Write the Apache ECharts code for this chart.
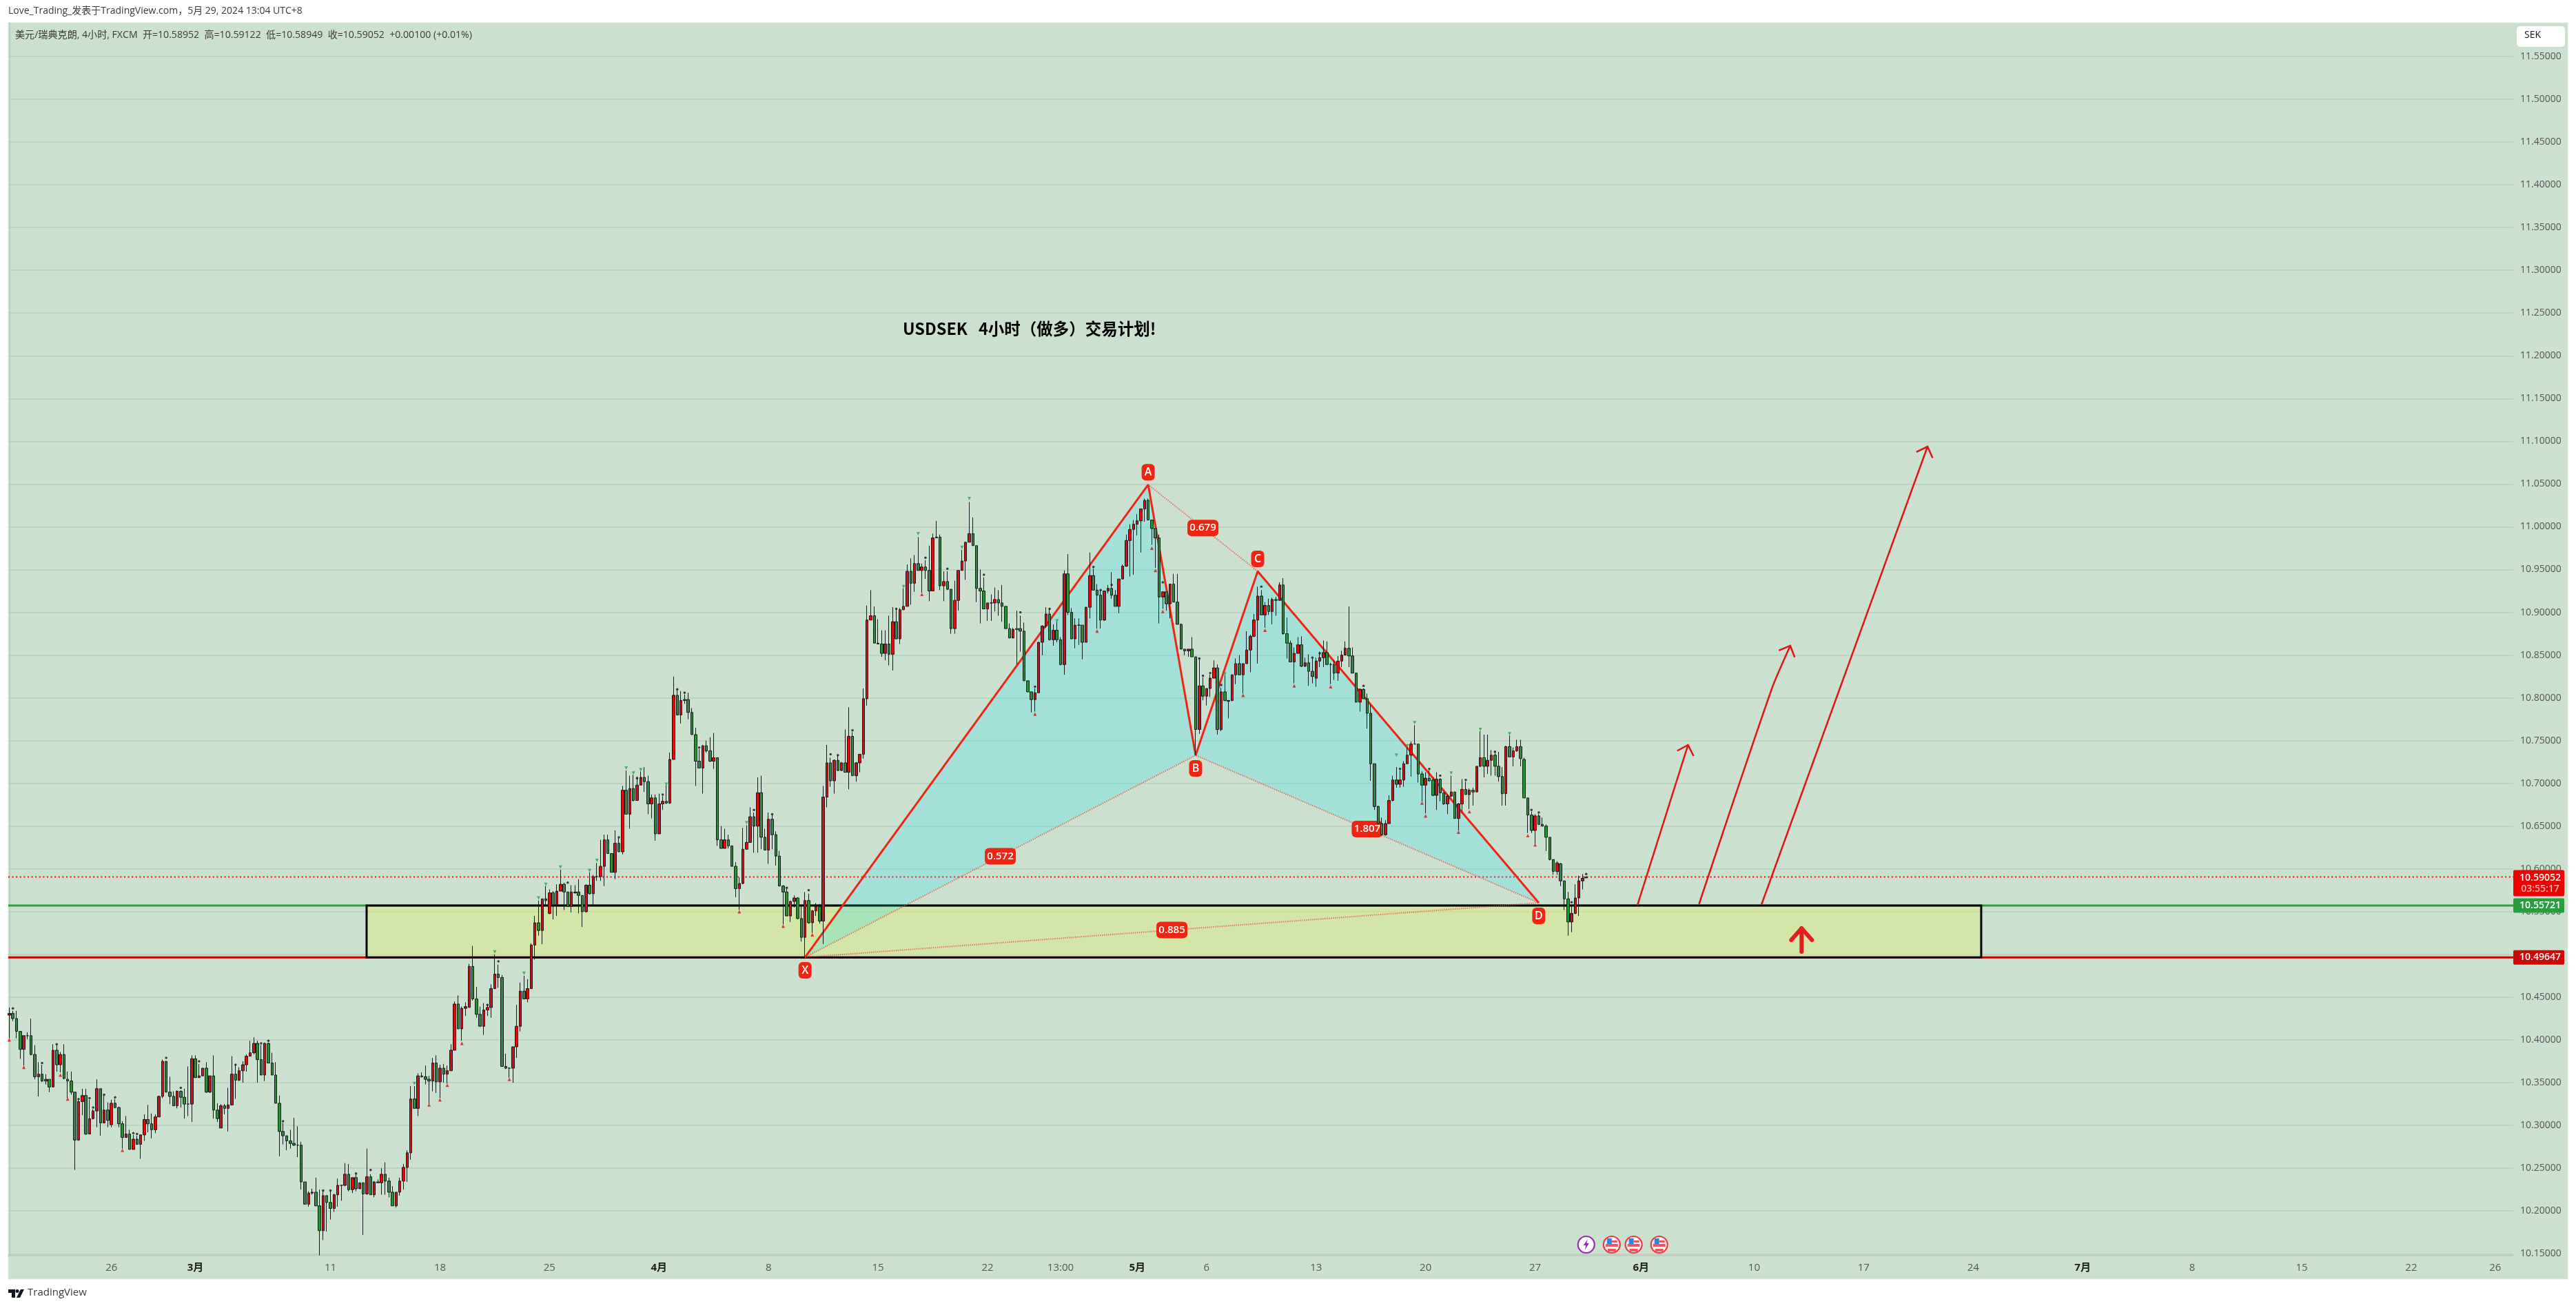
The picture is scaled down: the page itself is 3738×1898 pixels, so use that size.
<!DOCTYPE html>
<html><head><meta charset="utf-8"><style>html,body{margin:0;padding:0;background:#fff}#c{width:3738px;height:1898px}</style>
<script src="https://cdn.jsdelivr.net/npm/echarts@6/dist/echarts.min.js"></script></head><body><div id="c"></div>
<script>
const rising=("UDDDUDDDUD"+"UDUDUDDDDU"+"UDUUUDUDUD"+"DDUDUDUUDD"+"UUUDDDUDDD"+"UDUUDUDDUD"+"UUDUUUUUDD"+"UDDDDDDDDD"+"DDUUDDUDDU"+"UDUDUDUDUD"+
"UDUDDDUUUU"+"UDUDDDUDUD"+"UUUDUUUDDD"+"UUUUDDDUUU"+"UDUUUDUDUD"+"UUDDUDDDUD"+"UUUUDDUDUD"+"UDUUDDUDUU"+"DUUDUUDDDD"+"UDDUDDUDDD"+
"UUUUDUDDUD"+"DDDDUUDDUD"+"UUDUUDUDUD"+"UDUUUUUDDD"+"UDUDUUUDUD"+"UDDUUDUDDU"+"UUUUDDDDUD"+"UDDDDUDDDD"+"DUUUUDUDDU"+"DDUDDUUDDD"+
"UUDDUUUUUU"+"UUDDDDUDUD"+"DDDUDDUDUU"+"UDUDDUUDUU"+"UUUDUDUDUD"+"DDUUDUDDUU"+"UDDDUUUDDD"+"UDDDDDDUUU"+"DUUUUDDDUD"+"DUDDUUDUUD"+
"UDUUDUUDDD"+"UDUUDDDDUD"+"DDDDUDDDUU"+"UUU");
const bodyTops=[
10.431,10.431,10.425,10.410,10.405,10.405,10.405,10.383,10.360,10.360,
10.354,10.354,10.388,10.388,10.383,10.383,10.354,10.352,10.339,10.328,
10.335,10.335,10.308,10.317,10.343,10.343,10.318,10.318,10.326,10.326,
10.321,10.302,10.290,10.290,10.284,10.284,10.289,10.307,10.307,10.302,
10.310,10.334,10.375,10.375,10.339,10.334,10.340,10.340,10.333,10.325,
10.378,10.378,10.358,10.367,10.367,10.358,10.358,10.318,10.323,10.323,
10.324,10.360,10.360,10.364,10.371,10.381,10.385,10.396,10.396,10.377,
10.396,10.396,10.373,10.359,10.326,10.293,10.288,10.282,10.279,10.277,
10.277,10.234,10.221,10.222,10.222,10.206,10.218,10.218,10.210,10.219,
10.230,10.230,10.243,10.243,10.239,10.239,10.233,10.233,10.240,10.240,
10.234,10.234,10.243,10.243,10.235,10.222,10.222,10.235,10.251,10.268,
10.331,10.331,10.358,10.358,10.357,10.354,10.373,10.373,10.367,10.367,
10.364,10.388,10.442,10.442,10.437,10.439,10.486,10.486,10.448,10.430,
10.435,10.438,10.460,10.477,10.477,10.473,10.369,10.367,10.392,10.416,
10.457,10.457,10.460,10.511,10.537,10.537,10.565,10.565,10.572,10.572,
10.574,10.582,10.582,10.573,10.573,10.573,10.573,10.569,10.581,10.581,
10.591,10.591,10.603,10.634,10.634,10.618,10.630,10.630,10.692,10.692,
10.694,10.694,10.698,10.707,10.707,10.702,10.683,10.683,10.676,10.679,
10.679,10.728,10.803,10.803,10.797,10.798,10.798,10.783,10.757,10.726,
10.744,10.744,10.738,10.730,10.730,10.634,10.634,10.634,10.627,10.603,
10.583,10.623,10.631,10.661,10.661,10.689,10.689,10.637,10.658,10.658,
10.640,10.615,10.580,10.573,10.562,10.566,10.566,10.542,10.563,10.563,
10.551,10.556,10.556,10.684,10.724,10.724,10.727,10.727,10.724,10.724,
10.755,10.755,10.724,10.734,10.799,10.891,10.896,10.896,10.864,10.863,
10.863,10.863,10.889,10.889,10.903,10.907,10.948,10.948,10.957,10.957,
10.953,10.953,10.949,10.987,10.988,10.988,10.936,10.936,10.927,10.914,
10.949,10.960,10.982,10.992,10.992,10.978,10.928,10.925,10.911,10.911,
10.915,10.915,10.911,10.907,10.881,10.880,10.881,10.881,10.878,10.820,
10.807,10.806,10.865,10.884,10.898,10.898,10.879,10.879,10.868,10.945,
10.945,10.900,10.885,10.885,10.885,10.906,10.943,10.943,10.926,10.920,
10.925,10.928,10.928,10.920,10.939,10.954,10.984,10.997,11.003,11.007,
11.021,11.031,11.031,11.008,10.998,10.987,10.924,10.924,10.933,10.933,
10.912,10.886,10.857,10.857,10.857,10.848,10.814,10.814,10.811,10.823,
10.835,10.835,10.807,10.807,10.797,10.827,10.840,10.840,10.840,10.856,
10.872,10.891,10.919,10.919,10.908,10.908,10.915,10.915,10.932,10.932,
10.875,10.864,10.852,10.862,10.862,10.841,10.841,10.831,10.843,10.847,
10.853,10.853,10.839,10.839,10.843,10.850,10.858,10.858,10.849,10.829,
10.810,10.810,10.799,10.782,10.723,10.673,10.653,10.653,10.680,10.704,
10.704,10.704,10.723,10.733,10.746,10.746,10.746,10.711,10.706,10.706,
10.704,10.705,10.705,10.689,10.685,10.690,10.690,10.676,10.693,10.693,
10.692,10.692,10.720,10.730,10.730,10.727,10.733,10.733,10.720,10.708,
10.743,10.743,10.738,10.743,10.743,10.728,10.683,10.663,10.662,10.662,
10.652,10.650,10.637,10.611,10.607,10.606,10.586,10.565,10.548,10.566,
10.586,10.589,10.59052];
const bodyBottoms=[
10.429,10.425,10.410,10.389,10.389,10.405,10.383,10.357,10.357,10.352,
10.352,10.345,10.345,10.371,10.371,10.355,10.352,10.339,10.283,10.283,
10.328,10.290,10.290,10.308,10.317,10.303,10.303,10.306,10.301,10.321,
10.302,10.286,10.286,10.272,10.272,10.278,10.278,10.289,10.302,10.295,
10.295,10.310,10.334,10.339,10.334,10.323,10.323,10.333,10.325,10.325,
10.325,10.356,10.356,10.358,10.339,10.339,10.318,10.308,10.297,10.320,
10.320,10.324,10.353,10.353,10.364,10.371,10.381,10.385,10.377,10.359,
10.359,10.373,10.359,10.326,10.293,10.288,10.282,10.279,10.277,10.277,
10.234,10.208,10.208,10.221,10.206,10.177,10.177,10.210,10.203,10.203,
10.219,10.230,10.230,10.225,10.225,10.226,10.226,10.220,10.220,10.219,
10.219,10.233,10.233,10.235,10.222,10.206,10.206,10.222,10.235,10.251,
10.268,10.320,10.320,10.357,10.354,10.352,10.352,10.351,10.351,10.360,
10.360,10.364,10.388,10.413,10.413,10.437,10.438,10.448,10.430,10.416,
10.416,10.435,10.438,10.460,10.473,10.369,10.367,10.367,10.367,10.392,
10.416,10.448,10.448,10.460,10.511,10.528,10.528,10.563,10.548,10.558,
10.558,10.574,10.573,10.556,10.556,10.572,10.569,10.550,10.550,10.571,
10.571,10.591,10.591,10.603,10.618,10.596,10.596,10.620,10.620,10.664,
10.664,10.680,10.680,10.698,10.702,10.676,10.676,10.641,10.641,10.676,
10.677,10.677,10.728,10.780,10.780,10.797,10.783,10.757,10.726,10.718,
10.718,10.738,10.726,10.726,10.634,10.624,10.624,10.627,10.603,10.577,
10.577,10.583,10.623,10.631,10.650,10.650,10.637,10.622,10.622,10.640,
10.615,10.580,10.573,10.545,10.545,10.562,10.542,10.520,10.520,10.537,
10.537,10.551,10.539,10.539,10.684,10.703,10.703,10.715,10.715,10.713,
10.713,10.709,10.709,10.724,10.734,10.799,10.891,10.864,10.863,10.852,
10.852,10.851,10.851,10.869,10.869,10.903,10.907,10.934,10.934,10.949,
10.949,10.949,10.925,10.925,10.987,10.931,10.931,10.927,10.881,10.881,
10.914,10.949,10.960,10.982,10.978,10.928,10.925,10.904,10.904,10.911,
10.911,10.911,10.907,10.881,10.870,10.870,10.880,10.878,10.820,10.807,
10.798,10.798,10.806,10.865,10.884,10.868,10.868,10.868,10.839,10.839,
10.900,10.869,10.869,10.885,10.865,10.865,10.906,10.926,10.920,10.891,
10.891,10.925,10.920,10.907,10.907,10.939,10.954,10.984,10.997,11.003,
11.007,11.021,11.008,10.998,10.987,10.918,10.918,10.910,10.910,10.912,
10.886,10.857,10.855,10.855,10.848,10.763,10.763,10.802,10.802,10.811,
10.823,10.763,10.763,10.797,10.796,10.797,10.827,10.827,10.827,10.840,
10.856,10.872,10.891,10.897,10.897,10.901,10.901,10.914,10.914,10.875,
10.864,10.842,10.842,10.852,10.837,10.837,10.831,10.825,10.823,10.843,
10.847,10.839,10.839,10.829,10.829,10.843,10.850,10.849,10.829,10.795,
10.795,10.799,10.782,10.723,10.673,10.653,10.640,10.640,10.653,10.680,
10.699,10.699,10.704,10.723,10.733,10.746,10.711,10.698,10.698,10.703,
10.686,10.686,10.689,10.676,10.676,10.685,10.659,10.659,10.676,10.687,
10.687,10.690,10.690,10.720,10.720,10.720,10.727,10.720,10.708,10.688,
10.688,10.731,10.731,10.738,10.729,10.683,10.663,10.645,10.645,10.652,
10.650,10.637,10.611,10.597,10.597,10.586,10.565,10.538,10.538,10.548,
10.566,10.586,10.58952];
const highs=[
10.438,10.434,10.434,10.410,10.405,10.409,10.425,10.394,10.374,10.371,
10.360,10.354,10.395,10.394,10.386,10.395,10.363,10.363,10.339,10.330,
10.343,10.343,10.330,10.319,10.354,10.343,10.335,10.327,10.330,10.331,
10.322,10.305,10.311,10.295,10.289,10.288,10.289,10.313,10.324,10.314,
10.313,10.335,10.377,10.375,10.357,10.340,10.341,10.341,10.343,10.369,
10.382,10.382,10.372,10.367,10.374,10.358,10.382,10.326,10.325,10.325,
10.344,10.381,10.371,10.368,10.375,10.383,10.399,10.403,10.399,10.394,
10.397,10.397,10.385,10.374,10.335,10.303,10.288,10.295,10.309,10.299,
10.281,10.234,10.223,10.226,10.239,10.225,10.223,10.218,10.223,10.220,
10.238,10.230,10.256,10.255,10.239,10.243,10.233,10.233,10.273,10.243,
10.235,10.237,10.250,10.257,10.239,10.229,10.222,10.239,10.255,10.271,
10.346,10.346,10.361,10.362,10.370,10.358,10.379,10.382,10.371,10.372,
10.370,10.395,10.445,10.452,10.439,10.444,10.489,10.510,10.462,10.439,
10.443,10.442,10.465,10.500,10.488,10.476,10.384,10.368,10.392,10.441,
10.467,10.475,10.471,10.513,10.545,10.563,10.565,10.580,10.576,10.574,
10.582,10.599,10.584,10.573,10.581,10.581,10.588,10.569,10.582,10.596,
10.593,10.607,10.634,10.640,10.640,10.618,10.645,10.636,10.697,10.715,
10.709,10.710,10.708,10.714,10.719,10.709,10.687,10.687,10.688,10.685,
10.698,10.736,10.825,10.810,10.808,10.804,10.806,10.788,10.765,10.740,
10.745,10.750,10.754,10.759,10.730,10.650,10.647,10.640,10.627,10.608,
10.590,10.648,10.651,10.672,10.666,10.707,10.709,10.647,10.666,10.663,
10.644,10.621,10.581,10.577,10.563,10.569,10.567,10.557,10.573,10.571,
10.552,10.560,10.559,10.697,10.745,10.730,10.728,10.733,10.725,10.763,
10.789,10.760,10.725,10.734,10.811,10.908,10.926,10.907,10.892,10.879,
10.879,10.896,10.906,10.905,10.905,10.928,10.956,10.963,10.967,10.988,
10.957,10.961,10.978,10.992,11.007,10.991,10.948,10.948,10.927,10.937,
10.949,10.973,10.982,11.029,11.011,10.978,10.950,10.941,10.911,10.921,
10.929,10.926,10.932,10.907,10.887,10.882,10.902,10.896,10.888,10.820,
10.807,10.811,10.865,10.885,10.906,10.905,10.886,10.889,10.871,10.949,
10.968,10.905,10.893,10.893,10.885,10.906,10.970,10.951,10.933,10.926,
10.925,10.932,10.947,10.926,10.939,10.956,10.991,11.003,11.008,11.015,
11.021,11.033,11.033,11.008,10.998,10.991,10.924,10.924,10.933,10.945,
10.945,10.887,10.857,10.857,10.871,10.848,10.846,10.824,10.811,10.827,
10.844,10.839,10.812,10.827,10.797,10.827,10.846,10.850,10.840,10.878,
10.874,10.898,10.930,10.926,10.912,10.916,10.917,10.918,10.935,10.940,
10.894,10.867,10.859,10.871,10.872,10.847,10.851,10.846,10.847,10.854,
10.867,10.866,10.841,10.844,10.849,10.855,10.866,10.907,10.859,10.829,
10.811,10.811,10.805,10.792,10.723,10.674,10.660,10.657,10.686,10.709,
10.719,10.715,10.726,10.742,10.749,10.768,10.746,10.714,10.713,10.715,
10.707,10.713,10.706,10.689,10.687,10.709,10.690,10.677,10.705,10.702,
10.694,10.695,10.720,10.761,10.757,10.757,10.739,10.737,10.737,10.719,
10.744,10.756,10.742,10.751,10.751,10.730,10.683,10.667,10.664,10.664,
10.660,10.652,10.637,10.611,10.609,10.607,10.586,10.573,10.557,10.582,
10.592,10.594,10.59122];
const lows=[
10.402,10.422,10.402,10.378,10.370,10.401,10.382,10.354,10.334,10.351,
10.348,10.339,10.345,10.363,10.362,10.354,10.332,10.336,10.248,10.282,
10.312,10.289,10.290,10.307,10.298,10.288,10.303,10.298,10.298,10.320,
10.298,10.273,10.286,10.272,10.272,10.278,10.261,10.282,10.292,10.285,
10.291,10.310,10.332,10.339,10.325,10.323,10.320,10.321,10.308,10.311,
10.304,10.356,10.356,10.358,10.338,10.338,10.308,10.304,10.297,10.313,
10.293,10.324,10.331,10.352,10.350,10.363,10.381,10.383,10.350,10.359,
10.352,10.373,10.359,10.326,10.264,10.278,10.271,10.273,10.276,10.263,
10.225,10.208,10.205,10.219,10.206,10.148,10.166,10.176,10.190,10.199,
10.205,10.212,10.229,10.223,10.221,10.223,10.226,10.172,10.219,10.219,
10.216,10.233,10.219,10.219,10.216,10.206,10.204,10.218,10.225,10.234,
10.260,10.320,10.311,10.356,10.348,10.325,10.340,10.338,10.332,10.350,
10.349,10.364,10.388,10.413,10.399,10.428,10.438,10.446,10.426,10.416,
10.406,10.428,10.426,10.460,10.461,10.369,10.366,10.356,10.350,10.379,
10.410,10.448,10.444,10.460,10.494,10.522,10.512,10.556,10.547,10.541,
10.545,10.574,10.552,10.556,10.549,10.571,10.548,10.532,10.549,10.570,
10.558,10.586,10.586,10.580,10.618,10.596,10.588,10.620,10.617,10.664,
10.647,10.679,10.680,10.698,10.690,10.664,10.659,10.633,10.641,10.669,
10.676,10.676,10.728,10.780,10.770,10.793,10.775,10.757,10.697,10.718,
10.688,10.736,10.725,10.717,10.627,10.624,10.624,10.624,10.603,10.567,
10.552,10.582,10.623,10.631,10.619,10.619,10.623,10.622,10.606,10.623,
10.604,10.580,10.535,10.545,10.538,10.555,10.541,10.515,10.497,10.536,
10.525,10.545,10.536,10.512,10.672,10.696,10.688,10.715,10.715,10.713,
10.693,10.709,10.702,10.713,10.729,10.791,10.891,10.864,10.863,10.848,
10.844,10.838,10.832,10.869,10.863,10.903,10.907,10.909,10.924,10.949,
10.923,10.939,10.913,10.925,10.987,10.926,10.913,10.926,10.875,10.875,
10.902,10.949,10.938,10.982,10.978,10.912,10.887,10.904,10.890,10.890,
10.901,10.896,10.889,10.881,10.870,10.871,10.839,10.854,10.820,10.807,
10.783,10.784,10.806,10.850,10.882,10.867,10.861,10.865,10.838,10.827,
10.897,10.869,10.858,10.862,10.845,10.865,10.893,10.926,10.881,10.881,
10.890,10.922,10.916,10.907,10.899,10.939,10.953,10.942,10.944,10.990,
10.970,11.006,11.008,10.979,10.952,10.887,10.904,10.902,10.893,10.912,
10.886,10.857,10.850,10.848,10.848,10.733,10.758,10.797,10.791,10.801,
10.823,10.757,10.761,10.796,10.776,10.796,10.816,10.827,10.805,10.840,
10.830,10.871,10.840,10.897,10.882,10.897,10.886,10.896,10.914,10.874,
10.846,10.842,10.817,10.852,10.836,10.836,10.814,10.817,10.813,10.836,
10.836,10.839,10.816,10.821,10.820,10.836,10.850,10.836,10.829,10.795,
10.784,10.799,10.764,10.703,10.669,10.653,10.639,10.639,10.653,10.679,
10.695,10.695,10.696,10.723,10.708,10.746,10.701,10.679,10.665,10.702,
10.685,10.669,10.679,10.675,10.664,10.684,10.659,10.645,10.665,10.687,
10.670,10.674,10.690,10.719,10.707,10.711,10.709,10.709,10.702,10.674,
10.674,10.731,10.720,10.737,10.720,10.683,10.642,10.642,10.629,10.652,
10.650,10.621,10.610,10.593,10.593,10.580,10.552,10.522,10.526,10.547,
10.545,10.576,10.58949];

const redMarks=[[0,10.400],[4,10.368],[14,10.359],[16,10.331],[31,10.271],[115,10.324],[118,10.330],[120,10.347],[124,10.396],[137,10.354],[200,10.550],[212,10.533],[220,10.523],[250,10.921],[281,10.781],[298,10.878],[313,10.975],[314,10.949],[316,10.901],[338,10.803],[344,10.879],[352,10.814],[362,10.813],[387,10.677],[388,10.662],[397,10.643],[400,10.667],[416,10.639],[418,10.628]];
const greenMarks=[[111,10.349],[133,10.503],[141,10.478],[145,10.566],[147,10.582],[151,10.602],[159,10.598],[161,10.610],[169,10.718],[171,10.712],[173,10.716],[180,10.699],[202,10.654],[245,10.930],[249,10.992],[261,10.976],[263,11.033],[287,10.890],[333,10.828],[380,10.733],[383,10.744],[385,10.771],[395,10.712],[403,10.763],[411,10.758]];
const blackMarks=[[1,10.437],[9,10.373],[13,10.395],[19,10.331],[22,10.332],[23,10.321],[26,10.336],[29,10.333],[34,10.291],[35,10.290],[43,10.379],[47,10.344],[52,10.375],[62,10.371],[69,10.396],[71,10.399],[75,10.305],[86,10.224],[88,10.224],[95,10.244],[99,10.248],[131,10.441],[134,10.492],[153,10.584],[167,10.637],[172,10.706],[179,10.687],[183,10.810],[185,10.806],[189,10.742],[204,10.669],[209,10.664],[213,10.578],[219,10.575],[225,10.734],[227,10.733],[231,10.762],[243,10.904],[251,10.964],[257,10.951],[267,10.944],[277,10.900],[281,10.813],[285,10.904],[297,10.953],[299,10.926],[302,10.932],[316,10.935],[326,10.846],[327,10.826],[329,10.829],[332,10.815],[343,10.930],[357,10.847],[359,10.852],[371,10.814],[381,10.717],[389,10.717],[392,10.709],[399,10.704],[407,10.737],[417,10.669],[419,10.666],[428,10.561],[432,10.594]];

const yTickValues=[10.15,10.2,10.25,10.3,10.35,10.4,10.45,10.5,10.55,10.6,10.65,10.7,10.75,10.8,10.85,10.9,10.95,11,11.05,11.1,11.15,11.2,11.25,11.3,11.35,11.4,11.45,11.5,11.55];
const xTickBars=[28,51,88,118,148,178,208,238,268,288,309,328,358,388,418,447,478,508,538,568,598,628,658,681];
const xTickLabels=['26','3月','11','18','25','4月','8','15','22','13:00','5月','6','13','20','27','6月','10','17','24','7月','8','15','22','26'];
const monthLabels=['3月','4月','5月','6月','7月'];

const xMin=-0.264, xMax=685.96, yMin=10.14782, yMax=11.58941;
const currentPrice=10.59052, supportTop=10.55721, supportBottom=10.49647;
const zoneBars=[97.9,540.2];
const patternNames=['X','A','B','C','D'];
const patternPoints=[[218,10.4967],[312,11.0493],[325,10.7328],[342,10.948],[419,10.5604]];
const patternFills=[[0,1,2],[2,3,4]];
const ratioLabels=['0.572','0.679','1.807','0.885'];
const ratioPairs=[[0,2],[1,3],[2,4],[0,4]];
const arrows=[
 [[446,10.5572],[459.9,10.745]],
 [[462.9,10.5588],[482.8,10.8102],[487.9,10.861]],
 [[480,10.5582],[525.5,11.0938]]];
const upArrow=[491,10.5306,10.5032];
const eventBars=[432,439,445,452];
const eventKinds=['bolt','flag','flag','flag'];
const eventPrice=10.1607;

const RED='#df0a10',GREEN='#2e8b3a',EDGE='#12181c',PAT='#f02412',BG='#cce0d0';
const FONT='"Open Sans","Noto Sans CJK SC",sans-serif';

const candleData=rising.split('').map((f,i)=>{
  const up=f==='U';
  return [i, up?bodyBottoms[i]:bodyTops[i], up?bodyTops[i]:bodyBottoms[i], lows[i], highs[i]];
});

function hLine(name,price,color,width,type,z){
  return {type:'line',name,z,silent:true,symbol:'none',animation:false,
    data:[[xMin,price],[xMax,price]],lineStyle:{color,width,type}};
}
function pLine(name,idx,color,width,type,z){
  return {type:'line',name,z,silent:true,symbol:'none',animation:false,
    data:idx.map(k=>patternPoints[k]),lineStyle:{color,width,type}};
}
function tag(cx,cy,w,h,txt,size){
  return {type:'group',children:[
    {type:'rect',shape:{x:cx-w/2,y:cy-h/2,width:w,height:h,r:6},style:{fill:PAT}},
    {type:'text',style:{x:cx,y:cy,text:txt,fill:'#fff',font:'600 '+size+'px '+FONT,textAlign:'center',textVerticalAlign:'middle'}}
  ]};
}
function badge(yc,top,bottom,fill,txt,sub){
  const kids=[{type:'rect',shape:{x:3647,y:top,width:74,height:bottom-top,r:2},style:{fill}},
    {type:'text',style:{x:3686,y:yc,text:txt,fill:'#fff',font:'600 14px '+FONT,textAlign:'center',textVerticalAlign:'middle'}}];
  if(sub)kids.push({type:'text',style:{x:3686,y:yc+16,text:sub,fill:'#ffb3b3',font:'600 14px '+FONT,textAlign:'center',textVerticalAlign:'middle'}});
  return {type:'group',children:kids};
}

const chart=echarts.init(document.getElementById('c'),null,{renderer:'canvas',width:3738,height:1898});
chart.setOption({
  animation:false,
  backgroundColor:'#fff',
  tooltip:{show:false},
  grid:{left:12,right:91,top:33,bottom:76,containLabel:false},
  graphic:[
    {type:'rect',z:-10,shape:{x:12,y:33,width:3714,height:1823},style:{fill:BG,stroke:'#e4e8e4',lineWidth:1}},
    {type:'text',left:12,top:9,style:{text:'Love_Trading_发表于TradingView.com，5月 29, 2024 13:04 UTC+8',fill:'#3a3a3a',font:'14px '+FONT}},
    {type:'text',left:22,top:44,style:{text:'美元/瑞典克朗, 4小时, FXCM  开=10.58952  高=10.59122  低=10.58949  收=10.59052  +0.00100 (+0.01%)',fill:'#3a3a3a',font:'14.1px '+FONT}},
    {type:'text',left:1310,top:465,style:{text:'USDSEK   4小时（做多）交易计划!',fill:'#000',font:'600 23.5px "Noto Sans CJK SC",sans-serif'}},
    {type:'rect',shape:{x:3652,y:38,width:70,height:30,r:5},style:{fill:'#fff'},z:20},
    {type:'text',left:3663,top:44,z:21,style:{text:'SEK',fill:'#131722',font:'14px '+FONT}},
    {type:'text',left:40,top:1868,style:{text:'TradingView',fill:'#3a3a3a',font:'15px '+FONT}},
    {type:'polygon',shape:{points:[[12,1871],[22,1871],[22,1883],[17,1883],[17,1876],[12,1876]]},style:{fill:'#131722'}},
    {type:'circle',shape:{cx:25,cy:1873.5,r:2.5},style:{fill:'#131722'}},
    {type:'polygon',shape:{points:[[30,1871],[35,1871],[29,1883],[24,1883]]},style:{fill:'#131722'}}
  ],
  xAxis:{type:'value',min:xMin,max:xMax,splitLine:{show:false},
    axisLine:{show:true,onZero:false,lineStyle:{color:'#b5cbb9',width:1.5}},axisTick:{show:false},
    axisLabel:{customValues:xTickBars,margin:10,hideOverlap:false,showMinLabel:true,showMaxLabel:true,
      formatter:v=>{const k=xTickBars.indexOf(v);const t=k<0?'':xTickLabels[k];return monthLabels.includes(t)?'{m|'+t+'}':t;},
      color:'#555',fontSize:15,fontFamily:FONT,rich:{m:{fontWeight:'bold',color:'#1a1a1a',fontSize:15,fontFamily:FONT}}}},
  yAxis:{type:'value',position:'right',min:yMin,max:yMax,
    axisLine:{show:true,lineStyle:{color:'#b5cbb9',width:1.5}},
    axisTick:{show:false,customValues:yTickValues},
    splitLine:{show:true,lineStyle:{color:'#b9cfbe',width:1.5}},
    axisLabel:{customValues:yTickValues,margin:10,color:'#555',fontSize:14,fontFamily:FONT,hideOverlap:false,
      formatter:v=>v.toFixed(5)}},
  series:[
    hLine('支撑上沿',supportTop,'#2e9e3e',3,'solid',1),
    hLine('支撑下沿',supportBottom,'#cc0000',3,'solid',1),
    hLine('现价',currentPrice,'#ff0000',2,[2,3.6],1),
    {type:'custom',name:'区域',z:2,silent:true,data:[[zoneBars[0],supportTop,zoneBars[1],supportBottom]],
      renderItem:(p,api)=>{const a=api.coord([api.value(0),api.value(1)]),b=api.coord([api.value(2),api.value(3)]);
        return {type:'rect',shape:{x:a[0],y:a[1],width:b[0]-a[0],height:b[1]-a[1]},style:{fill:'rgba(224,236,112,0.42)',stroke:'#000',lineWidth:3}};}},
    {type:'custom',name:'形态填充',z:3,silent:true,data:patternFills.map((t,i)=>[i,i]),
      renderItem:(p,api)=>({type:'polygon',shape:{points:patternFills[p.dataIndex].map(k=>api.coord(patternPoints[k]))},style:{fill:'rgba(0,224,248,0.2)'}})},
    pLine('XB-BD',[0,2,4],'rgba(240,70,60,0.7)',2,[1.5,1.5],4),
    pLine('AC',[1,3],'rgba(240,70,60,0.7)',2,[1.5,1.5],4),
    pLine('XD',[0,4],'rgba(240,70,60,0.7)',2,[1.5,1.5],4),
    pLine('XABCD',[0,1,2,3,4],PAT,3,'solid',4),
    {type:'custom',name:'形态标签',z:5,silent:true,data:patternPoints,clip:false,
      renderItem:(p,api)=>{const c=api.coord([api.value(0),api.value(1)]);const n=patternNames[p.dataIndex];
        const above=n==='A'||n==='C';return tag(c[0],c[1]+(above?-18:19),19,24,n,16);}},
    {type:'custom',name:'比率',z:5,silent:true,data:ratioPairs.map(q=>[(patternPoints[q[0]][0]+patternPoints[q[1]][0])/2,(patternPoints[q[0]][1]+patternPoints[q[1]][1])/2]),
      renderItem:(p,api)=>{const c=api.coord([api.value(0),api.value(1)]);return tag(c[0],c[1],45,24,ratioLabels[p.dataIndex],15);}},
    {type:'candlestick',name:'USDSEK',z:8,silent:true,barWidth:4,data:candleData,
      itemStyle:{color:RED,color0:GREEN,borderColor:EDGE,borderColor0:EDGE,borderWidth:1}},
    {type:'custom',name:'箭头',z:6,silent:true,data:arrows.map((a,i)=>[i,i]),
      renderItem:(p,api)=>{const pts=arrows[p.dataIndex].map(q=>api.coord(q));const n=pts.length;
        const t=pts[n-1],f=pts[n-2];const ang=Math.atan2(f[1]-t[1],f[0]-t[0]);const L=18,s=44*Math.PI/180;
        const a1=[t[0]+L*Math.cos(ang-s),t[1]+L*Math.sin(ang-s)],a2=[t[0]+L*Math.cos(ang+s),t[1]+L*Math.sin(ang+s)];
        return {type:'group',children:[
          {type:'polyline',shape:{points:pts,smooth:n>2?0.25:0},style:{stroke:'#e01515',lineWidth:2.5,fill:null}},
          {type:'polyline',shape:{points:[a1,t,a2]},style:{stroke:'#e01515',lineWidth:2.5,fill:null}}]};}},
    {type:'custom',name:'向上',z:6,silent:true,data:[upArrow],
      renderItem:(p,api)=>{const t=api.coord([api.value(0),api.value(1)]),b=api.coord([api.value(0),api.value(2)]);
        return {type:'group',children:[
          {type:'line',shape:{x1:t[0],y1:t[1],x2:b[0],y2:b[1]},style:{stroke:'#e41e1e',lineWidth:6,lineCap:'round'}},
          {type:'polyline',shape:{points:[[t[0]-15,t[1]+17],[t[0],t[1]],[t[0]+15,t[1]+17]]},style:{stroke:'#e41e1e',lineWidth:6,lineCap:'round',lineJoin:'round',fill:null}}]};}},
    {type:'scatter',name:'高点',z:9,silent:true,symbol:'triangle',symbolRotate:180,symbolSize:5,data:greenMarks,itemStyle:{color:'#2ea043'}},
    {type:'scatter',name:'低点',z:9,silent:true,symbol:'triangle',symbolSize:5,data:redMarks,itemStyle:{color:'#e00a0a'}},
    {type:'scatter',name:'信号',z:9,silent:true,symbol:'circle',symbolSize:3.5,data:blackMarks,itemStyle:{color:'#111'}},
    {type:'custom',name:'事件',z:9,silent:true,data:eventBars.map(b=>[b,eventPrice]),
      renderItem:(p,api)=>{const c=api.coord([api.value(0),api.value(1)]);const x=c[0],y=c[1];
        if(eventKinds[p.dataIndex]==='bolt'){return {type:'group',children:[
          {type:'circle',shape:{cx:x,cy:y,r:12},style:{fill:'#fff',stroke:'#9c27b0',lineWidth:2.2}},
          {type:'polygon',shape:{points:[[x+2,y-8],[x-4,y+1],[x-0.5,y+1],[x-2,y+8],[x+4,y-2],[x+0.5,y-2]]},style:{fill:'#9c27b0'}}]};}
        return {type:'group',children:[
          {type:'circle',shape:{cx:x,cy:y,r:12},style:{fill:'#fff',stroke:'#f23645',lineWidth:2.2}},
          {type:'rect',shape:{x:x-7,y:y-9,width:7,height:9},style:{fill:'#2f80ed'}},
          {type:'rect',shape:{x:x,y:y-6,width:8,height:3},style:{fill:'#f2545f'}},
          {type:'rect',shape:{x:x-9,y:y-1,width:18,height:4},style:{fill:'#f2545f'}},
          {type:'rect',shape:{x:x-6,y:y+6,width:12,height:4},style:{fill:'#f2545f'}}]};}},
    {type:'custom',name:'价格标签',z:20,silent:true,clip:false,data:[[xMax,currentPrice],[xMax,supportTop],[xMax,supportBottom]],
      renderItem:(p,api)=>{const y=api.coord([api.value(0),api.value(1)])[1];
        if(p.dataIndex===0)return badge(y+1,y-10,y+28,'#f00000',currentPrice.toFixed(5),'03:55:17');
        if(p.dataIndex===1)return badge(y,y-10.5,y+10.5,'#2a9d3e',supportTop.toFixed(5));
        return badge(y,y-10.5,y+10.5,'#cc0808',supportBottom.toFixed(5));}}
  ]
});
</script></body></html>
